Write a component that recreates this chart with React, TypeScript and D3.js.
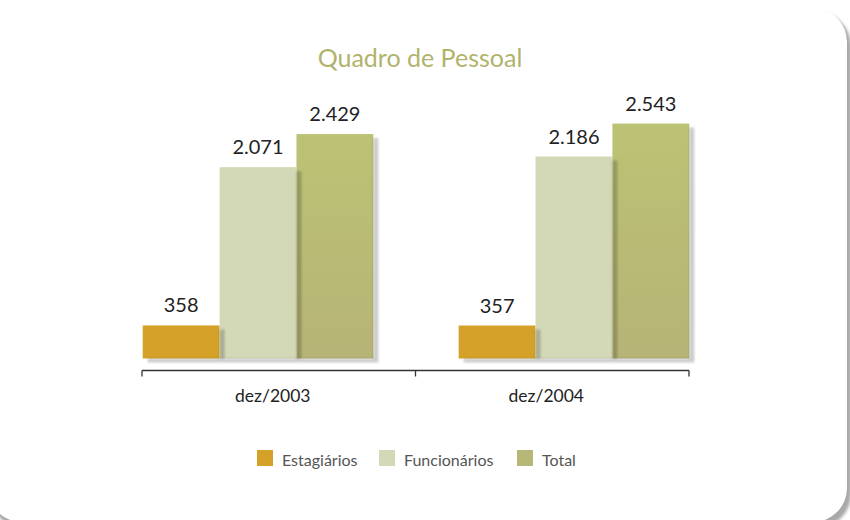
import React, { useEffect, useRef } from "react";
import * as d3 from "d3";

const periods = ["dez/2003", "dez/2004"];
const seriesNames = ["Estagiários", "Funcionários", "Total"];
const estagiarios = [358, 357];
const funcionarios = [2071, 2186];
const total = [2429, 2543];
const valueLabels = [["358", "2.071", "2.429"], ["357", "2.186", "2.543"]];
const colors = ["#d5a128", "#d3d8b6", "url(#totalGrad)"];
const legendColors = ["#d5a128", "#d3d8b6", "#b6b676"];

const W = 850;
const H = 520;
const FONT = "Lato, 'Open Sans', sans-serif";

function drawChart(node: SVGSVGElement) {
  const svg = d3.select(node);
  svg.selectAll("*").remove();

  const defs = svg.append("defs");
  const grad = defs.append("linearGradient")
    .attr("id", "totalGrad")
    .attr("x1", 0).attr("y1", 0).attr("x2", 0).attr("y2", 1);
  grad.append("stop").attr("offset", "0%").attr("stop-color", "#bcc274");
  grad.append("stop").attr("offset", "100%").attr("stop-color", "#b6b476");

  const blur = defs.append("filter").attr("id", "soft")
    .attr("x", "-20%").attr("y", "-20%").attr("width", "140%").attr("height", "140%");
  blur.append("feGaussianBlur").attr("stdDeviation", 0.8);

  const cardBlur = defs.append("filter").attr("id", "cardShadow")
    .attr("x", "-5%").attr("y", "-5%").attr("width", "110%").attr("height", "110%");
  cardBlur.append("feGaussianBlur").attr("stdDeviation", 1.5);

  // background + card
  svg.append("rect").attr("width", W).attr("height", H).attr("fill", "#ffffff");
  svg.append("rect")
    .attr("x", -10).attr("y", 12).attr("width", 861).attr("height", 516)
    .attr("rx", 34).attr("fill", "#a8a8a8").attr("filter", "url(#cardShadow)");
  svg.append("rect")
    .attr("x", -12).attr("y", 8).attr("width", 859).attr("height", 514)
    .attr("rx", 34).attr("fill", "#ffffff");

  // title
  svg.append("text")
    .attr("x", 420).attr("y", 67)
    .attr("text-anchor", "middle")
    .attr("font-family", FONT)
    .attr("font-size", 25)
    .attr("fill", "#b1b36b")
    .text("Quadro de Pessoal");

  const data = periods.map((p, i) => ({
    period: p,
    values: [estagiarios[i], funcionarios[i], total[i]],
  }));

  const x0 = d3.scaleBand<string>()
    .domain(periods)
    .range([142.7, 689.3])
    .paddingInner(0.27)
    .paddingOuter(0);

  const x1 = d3.scaleBand<string>()
    .domain(seriesNames)
    .range([0, x0.bandwidth()])
    .padding(0);

  const y = d3.scaleLinear()
    .domain([0, 2800])
    .range([358.5, 99.8]);

  const base = y(0);
  const dx = 5, dy = 4;

  const groups = svg.append("g").selectAll("g")
    .data(data)
    .enter().append("g")
    .attr("transform", d => "translate(" + x0(d.period) + ",0)");

  groups.selectAll("rect.bar")
    .data(d => d.values.map((v, j) => ({ name: seriesNames[j], value: v, j })))
    .enter().append("rect")
    .attr("class", "bar")
    .attr("x", d => x1(d.name) as number)
    .attr("y", d => y(d.value))
    .attr("width", x1.bandwidth())
    .attr("height", d => base - y(d.value))
    .attr("fill", d => colors[d.j]);

  // shadows drawn over neighbours, L-shape outside own bar
  groups.selectAll("path.shadow")
    .data(d => d.values.map((v, j) => ({ name: seriesNames[j], value: v, j })))
    .enter().append("path")
    .attr("class", "shadow")
    .attr("d", d => {
      const bx = x1(d.name) as number;
      const bw = x1.bandwidth();
      const top = y(d.value);
      return "M" + (bx + bw) + "," + (top + dy) +
        "H" + (bx + bw + dx) + "V" + (base + dy) +
        "H" + (bx + dx) + "V" + base + "H" + (bx + bw) + "Z";
    })
    .attr("fill", "#000")
    .attr("fill-opacity", 0.2)
    .attr("filter", "url(#soft)");

  // value labels
  groups.selectAll("text.val")
    .data((d, i) => d.values.map((v, j) => ({ name: seriesNames[j], value: v, label: valueLabels[i][j] })))
    .enter().append("text")
    .attr("class", "val")
    .attr("x", d => (x1(d.name) as number) + x1.bandwidth() / 2)
    .attr("y", d => y(d.value) - 13)
    .attr("text-anchor", "middle")
    .attr("font-family", FONT)
    .attr("font-size", 20)
    .attr("fill", "#222")
    .text(d => d.label);

  // category axis
  const xAxis = d3.scaleBand<string>().domain(periods).range([142, 689]);
  const axis = svg.append("g").attr("transform", "translate(0,370.5)");
  axis.append("line")
    .attr("x1", 142).attr("x2", 689)
    .attr("stroke", "#333").attr("stroke-width", 1.3);
  const tickXs = [142, ...periods.map(p => (xAxis(p) as number) + xAxis.bandwidth())];
  axis.selectAll("line.tick")
    .data(tickXs)
    .enter().append("line")
    .attr("class", "tick")
    .attr("x1", d => d).attr("x2", d => d)
    .attr("y1", 0).attr("y2", 6)
    .attr("stroke", "#333").attr("stroke-width", 1.3);
  axis.selectAll("text")
    .data(periods)
    .enter().append("text")
    .attr("x", d => (xAxis(d) as number) + xAxis.bandwidth() / 2 - 6)
    .attr("y", 31)
    .attr("text-anchor", "middle")
    .attr("font-family", FONT)
    .attr("font-size", 17.5)
    .attr("fill", "#222")
    .text(d => d);

  // legend
  const legendX = [257, 379, 517];
  const legend = svg.append("g").attr("transform", "translate(0,450)");
  const items = legend.selectAll("g")
    .data(seriesNames)
    .enter().append("g")
    .attr("transform", (d, i) => "translate(" + legendX[i] + ",0)");
  items.append("rect")
    .attr("width", 16).attr("height", 16)
    .attr("fill", (d, i) => legendColors[i]);
  items.append("text")
    .attr("x", 25).attr("y", 16)
    .attr("font-family", FONT)
    .attr("font-size", 16)
    .attr("fill", "#555")
    .text(d => d);
}

export default function App() {
  const ref = useRef<SVGSVGElement>(null);
  useEffect(() => {
    if (ref.current) drawChart(ref.current);
  }, []);
  return (
    <svg
      ref={ref}
      width={W}
      height={H}
      style={{ position: "absolute", left: 0, top: 0, display: "block" }}
    />
  );
}
